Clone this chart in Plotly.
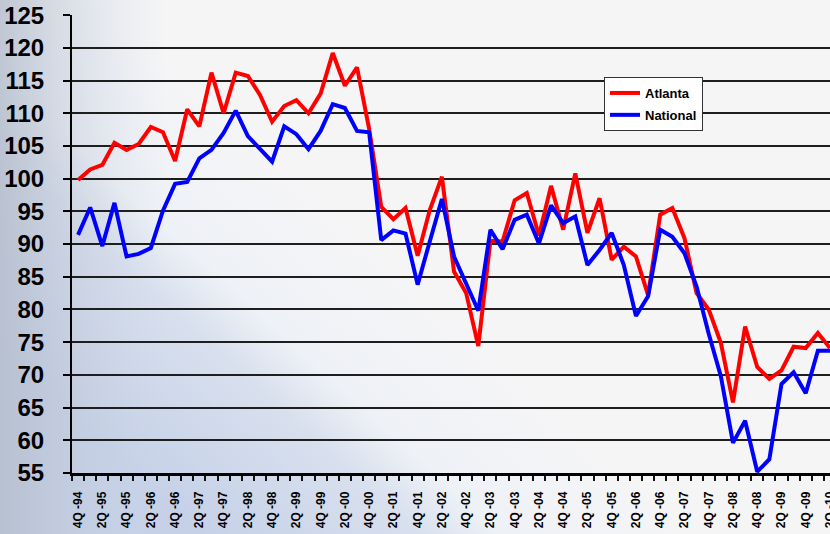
import base64
import plotly.graph_objects as go

# quarterly categories 4Q-94 .. 2Q-10
quarters = [f"{q}Q -{y % 100:02d}"
            for y in range(1994, 2011) for q in range(1, 5)
            if (1994, 4) <= (y, q) <= (2010, 2)]

atlanta = [99.8, 101.4, 102.1, 105.5, 104.4, 105.3, 107.9, 107.1, 102.7, 110.6,
           108.0, 116.2, 110.0, 116.2, 115.7, 112.8, 108.7, 111.1, 112.0, 110.0,
           113.0, 119.2, 114.2, 117.0, 107.6, 95.7, 93.8, 95.5, 88.2, 95.2,
           100.3, 85.8, 82.5, 74.4, 90.5, 90.4, 96.7, 97.8, 91.3, 98.9,
           92.2, 100.8, 91.7, 97.0, 87.6, 89.6, 88.1, 82.2, 94.5, 95.5,
           90.9, 82.5, 80.0, 74.9, 65.8, 77.4, 71.2, 69.4, 70.7, 74.3,
           74.1, 76.4, 74.1]

national = [91.4, 95.6, 89.7, 96.3, 88.1, 88.5, 89.4, 95.1, 99.2, 99.5,
            103.1, 104.4, 107.0, 110.4, 106.5, 104.5, 102.6, 108.0, 106.8, 104.5,
            107.3, 111.4, 110.8, 107.3, 107.1, 90.6, 92.1, 91.6, 83.8, 90.4,
            96.9, 88.1, 84.0, 79.8, 92.2, 89.2, 93.7, 94.5, 90.1, 95.9,
            93.2, 94.2, 86.8, 89.1, 91.7, 86.8, 79.0, 82.0, 92.2, 91.1,
            88.6, 83.5, 76.3, 69.8, 59.6, 63.0, 55.2, 57.1, 68.6, 70.4,
            67.2, 73.7, 73.7]

y_ticks = list(range(55, 130, 5))

# only every other quarter gets a label
tick_text = [q if i % 2 == 0 else "" for i, q in enumerate(quarters)]

# slide-style background: bluish lower left fading to light grey
svg = """<svg xmlns="http://www.w3.org/2000/svg" width="830" height="534" viewBox="0 0 830 534" preserveAspectRatio="none">
<defs>
<linearGradient id="d" gradientUnits="userSpaceOnUse" x1="110" y1="450" x2="330" y2="210">
<stop offset="0" stop-color="#c6d1e8"/>
<stop offset="0.45" stop-color="#d8e0ee"/>
<stop offset="0.62" stop-color="#eef1f6"/>
<stop offset="1" stop-color="#f5f5f6"/>
</linearGradient>
<linearGradient id="h" x1="0" y1="0" x2="1" y2="0">
<stop offset="0" stop-color="#b4bccb" stop-opacity="0.8"/>
<stop offset="0.2" stop-color="#cfd7e6" stop-opacity="0.0"/>
</linearGradient>
</defs>
<rect width="830" height="534" fill="url(#d)"/>
<rect width="830" height="534" fill="url(#h)"/>
</svg>"""
bg_src = "data:image/svg+xml;base64," + base64.b64encode(svg.encode()).decode()

fig = go.Figure()
fig.add_trace(go.Scatter(x=quarters, y=atlanta, mode="lines", name="Atlanta",
                         line=dict(color="#ff0000", width=4), legendgroup="a"))
fig.add_trace(go.Scatter(x=quarters, y=national, mode="lines", name="National",
                         line=dict(color="#0000ff", width=4), legendgroup="n"))

L, T, W, H = 72, 15, 758, 458

fig.update_layout(
    width=830, height=534,
    margin=dict(l=L, r=0, t=T, b=534 - T - H),
    paper_bgcolor="#eef0f4",
    plot_bgcolor="rgba(0,0,0,0)",
    images=[dict(source=bg_src, xref="paper", yref="paper",
                 x=-L / W, y=1 + T / H, sizex=830 / W, sizey=534 / H,
                 xanchor="left", yanchor="top", sizing="stretch",
                 layer="below")],
    showlegend=True,
    legend=dict(x=(604 - L) / W, y=(473 - 77) / H, xanchor="left", yanchor="top",
                bgcolor="white", bordercolor="#333333", borderwidth=1,
                font=dict(family="Liberation Sans", size=13, color="black",
                          weight="bold"),
                entrywidth=62, entrywidthmode="pixels",
                traceorder="grouped", tracegroupgap=2),
    xaxis=dict(type="category", range=[-0.5, 62], automargin=False,
               tickmode="array", tickvals=quarters, ticktext=tick_text,
               tickson="boundaries", ticks="outside", ticklen=5,
               tickcolor="#111111", tickwidth=1.5, tickangle=-90,
               tickfont=dict(family="Liberation Sans", size=12, color="black",
                             weight="bold"),
               ticklabelstandoff=11, ticklabeloverflow="allow",
               showgrid=False, showline=True, linecolor="black", linewidth=2.5,
               zeroline=False),
    yaxis=dict(range=[55, 125.02], automargin=False, tickvals=y_ticks,
               ticks="outside", ticklen=7, tickcolor="black", tickwidth=1.5,
               tickfont=dict(family="Liberation Sans", size=24,
                             color="black", weight="bold"),
               ticklabelstandoff=14, ticklabeloverflow="allow",
               showgrid=True, gridcolor="#1e1e1e", gridwidth=1.5,
               showline=True, linecolor="black", linewidth=2, zeroline=False),
)

# drop the default page margin so the figure sits at the window's corner
fig.write_html("out.html", config={"displayModeBar": False},
               post_script="document.body.style.margin='0';")
